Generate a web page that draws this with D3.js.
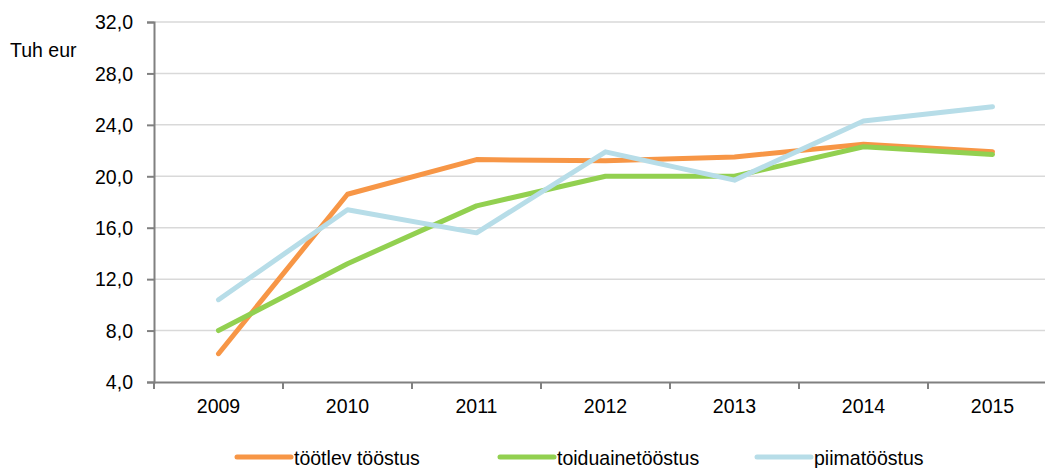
<!DOCTYPE html>
<html>
<head>
<meta charset="utf-8">
<script src="https://cdn.jsdelivr.net/npm/d3@7"></script>
<style>
  body { margin: 0; background: #fff; }
  text { font-family: "Liberation Sans", Arial, sans-serif; fill: #000; }
</style>
</head>
<body>
<div id="chart-area"></div>
<script>
// data
const years = ["2009", "2010", "2011", "2012", "2013", "2014", "2015"]
const tootlev = [6.2, 18.6, 21.3, 21.2, 21.5, 22.5, 21.9]
const toiduaine = [8.0, 13.2, 17.7, 20.0, 20.0, 22.3, 21.7]
const piima = [10.4, 17.4, 15.6, 21.9, 19.7, 24.3, 25.4]
const seriesNames = ["töötlev tööstus", "toiduainetööstus", "piimatööstus"]
const yTicks = [4, 8, 12, 16, 20, 24, 28, 32]

// the original font is a bit narrow, squeeze the text horizontally
const squeeze = 0.93
function condense(sel) {
    sel.each(function() {
        const t = d3.select(this)
        const x = +t.attr("x") || 0
        t.attr("x", x / squeeze).attr("transform", `scale(${squeeze},1)`)
    })
}

function drawChart() {
    const svgWidth = 1045
    const svgHeight = 468
    const margin = { left: 154, top: 22, right: -12, bottom: 86 }

    const svg = d3.select("#chart-area")
                .append("svg")
                .attr("width", svgWidth)
                .attr("height", svgHeight)

    const x = d3.scaleBand()
        .domain(years)
        .range([margin.left, svgWidth - margin.right])

    const y = d3.scaleLinear()
        .domain([4, 32])
        .range([svgHeight - margin.bottom, margin.top])

    const colors = ["#f79646", "#92d050", "#b7dde8"]
    const series = [tootlev, toiduaine, piima]

    // gridlines
    svg.append("g")
        .selectAll("line")
        .data(yTicks.slice(1))
        .enter().append("line")
        .attr("x1", margin.left)
        .attr("x2", svgWidth)
        .attr("y1", d => y(d))
        .attr("y2", d => y(d))
        .attr("stroke", "#d9d9d9")
        .attr("stroke-width", 1.5)

    const fmt = d => d3.format(".1f")(d).replace(".", ",")

    // y axis
    const yAxis = svg.append("g")
        .attr("transform", `translate(${margin.left},0)`)
        .call(d3.axisLeft(y).tickValues(yTicks).tickFormat(fmt).tickSize(7).tickPadding(14))
    yAxis.selectAll("text").style("font-size", "21px").call(condense)

    // x axis, ticks on band edges
    const xAxis = svg.append("g")
        .attr("transform", `translate(0,${y(4)})`)
        .call(d3.axisBottom(x).tickSize(0).tickPadding(16))
    xAxis.selectAll("text").style("font-size", "21px").call(condense)
    xAxis.selectAll(".edge")
        .data(years)
        .enter().append("line")
        .attr("class", "edge")
        .attr("x1", d => x(d))
        .attr("x2", d => x(d))
        .attr("y1", 0)
        .attr("y2", 7)

    svg.selectAll(".domain, .tick line, .edge")
        .attr("stroke", "#808080")
        .attr("stroke-width", 2)

    svg.append("text")
        .attr("x", 10)
        .attr("y", 57)
        .style("font-size", "21px")
        .text("Tuh eur")
        .call(condense)

    const line = d3.line()
        .x((d, i) => x(years[i]) + x.bandwidth() / 2)
        .y(d => y(d))

    svg.append("g")
        .selectAll("path")
        .data(series)
        .enter().append("path")
        .attr("d", line)
        .attr("fill", "none")
        .attr("stroke", (d, i) => colors[i])
        .attr("stroke-width", 5)
        .attr("stroke-linecap", "round")
        .attr("stroke-linejoin", "round")

    // legend
    const legendX = [237, 500, 757]
    const legend = svg.append("g")
        .selectAll("g")
        .data(seriesNames)
        .enter().append("g")
        .attr("transform", (d, i) => `translate(${legendX[i]},457)`)
    legend.append("line")
        .attr("x1", 0)
        .attr("x2", 54)
        .attr("stroke", (d, i) => colors[i])
        .attr("stroke-width", 5)
        .attr("stroke-linecap", "round")
    legend.append("text")
        .attr("x", 57)
        .attr("y", 8)
        .style("font-size", "21px")
        .text(d => d)
        .call(condense)
}

drawChart()
</script>
</body>
</html>
